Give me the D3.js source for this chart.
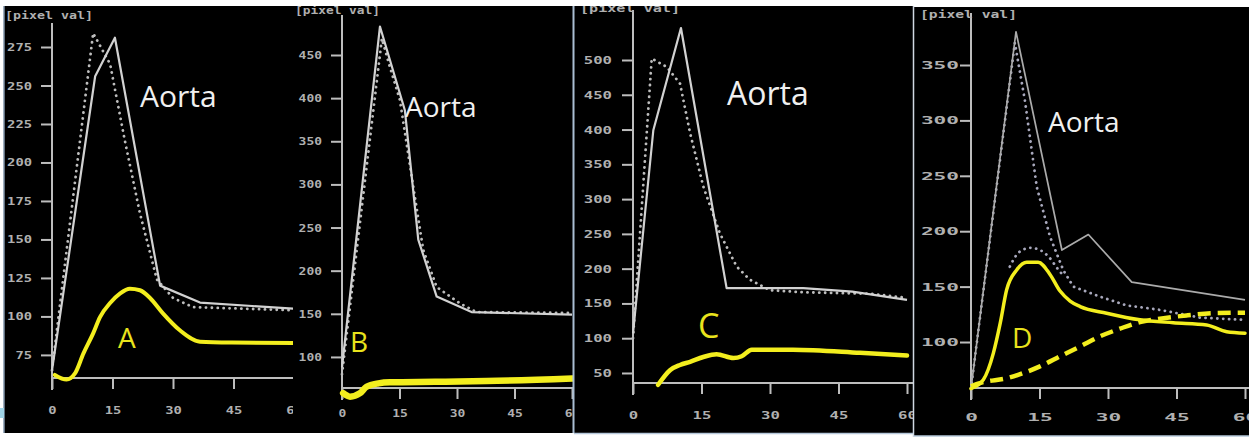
<!DOCTYPE html>
<html>
<head>
<meta charset="utf-8">
<script src="https://cdn.jsdelivr.net/npm/d3@7"></script>
<style>
  html, body { margin: 0; padding: 0; background: #fff; }
  svg { display: block; }
</style>
</head>
<body>
<svg id="chart" width="1249" height="437"></svg>
<script>
// time axis (s) shared by the four curves
const timeTicks = [0, 15, 30, 45, 60];

// y tick labels, one list per panel
const yTicksA = [75, 100, 125, 150, 175, 200, 225, 250, 275];
const yTicksB = [100, 150, 200, 250, 300, 350, 400, 450];
const yTicksC = [50, 100, 150, 200, 250, 300, 350, 400, 450, 500];
const yTicksD = [100, 150, 200, 250, 300, 350];

// aorta, measured (solid grey)  [time, pixel val]
const aortaA = [[0, 65], [10.7, 256], [15.6, 281], [26.8, 120], [36.7, 109], [60, 105]];
const aortaB = [[0, 88], [9.9, 483], [16.4, 386], [19.9, 236], [24.7, 170], [33.8, 152], [60, 149]];
const aortaC = [[0, 107], [4.45, 399], [10.5, 546], [20.5, 172], [37.3, 172], [48, 167], [60, 155]];
const aortaD = [[0, 58], [9.85, 380], [19.9, 183], [25.7, 197], [35.2, 154], [60, 138]];

// aorta, fitted (dotted grey)
const aortaFitA = [[0, 65], [10.2, 284], [14.4, 264], [18, 215], [21.8, 167], [26, 124], [30, 112], [35, 106], [60, 104]];
const aortaFitB = [[0, 80], [10.4, 469], [12.5, 436], [15.1, 398], [18.6, 297], [21.2, 224], [24.7, 181], [30.8, 162], [35.1, 152], [60, 151]];
const aortaFitC = [[0, 100], [4.1, 502], [7.4, 490], [10.3, 466], [12.5, 395], [15.4, 318], [19, 251], [22.7, 203], [25.6, 184], [30, 169], [37.3, 166], [52, 164], [60, 158]];
const aortaFitD = [[0, 58], [9.6, 370], [11.8, 318], [14.4, 240], [17.3, 195], [20.2, 165], [22.4, 150], [28.2, 141], [34.1, 133], [41.4, 129], [50.1, 122], [60, 120]];
const bumpFitD = [[8.5, 168], [10.5, 181], [13, 185], [15.1, 183], [17, 177], [19, 166], [20.2, 160]];

// tissue curves (yellow)
const tumorA = [[0.7, 62], [3.6, 59], [5.7, 63], [7.8, 76], [10.2, 89], [11.9, 99.6], [14.4, 108.7], [16.9, 115], [19.3, 118], [21.8, 117], [24.3, 112], [27.5, 102], [31.7, 91], [36.7, 83.6], [44.6, 83], [60, 82.7]];
const tumorB = [[0.3, 58], [2.1, 54], [4.7, 58], [6.4, 65.5], [9.5, 69.4], [12.5, 70.6], [24.3, 71.2], [37.7, 72], [60, 75]];
const tumorC = [[5.5, 33], [8.1, 54], [10.3, 61.5], [12.5, 66], [15.4, 73], [18.3, 77], [22, 71.5], [23.8, 74], [26, 83.5], [35, 83.5], [49.7, 79], [60, 75]];
const tumorD = [[0, 58], [2.7, 66], [4.9, 90], [6.4, 117], [7.8, 147], [10, 165], [12.2, 172], [14.7, 172], [17.3, 161], [19.5, 146], [21.7, 137], [23.9, 132], [29.7, 126], [37, 120], [44.3, 117.4], [51.6, 115.4], [56, 109.3], [60, 108]];
const tumorDashedD = [[0, 60], [1.2, 62], [8.5, 68], [15.1, 78], [19.5, 87], [23.9, 96], [28.2, 105], [32.6, 112], [37, 118], [41.4, 121], [47.2, 124], [53.1, 126], [60, 126.5]];

const yellow = "#f3ee1e";
const axisColor = "#bdbdbd";
const tickText = "#b0b0b0";

// layout of the four screenshots
const panels = [
  { key: "A", box: [4, 6, 293, 433], x0: 52, x60: 294, y0: 378, yTop: 23,
    yDomain: [60, 275], yRange: [378, 47], yTicks: yTicksA, charW: 8.3, yPad: 9, xLabelY: 410,
    title: [5, 19, 88], aorta: aortaA, fits: [aortaFitA], tumor: tumorA, tumorW: 4, dashed: null,
    aortaLabel: [140, 107, 30], letter: [118, 348, 28] },
  { key: "B", box: [293, 6, 573, 433], x0: 342, x60: 572, y0: 388, yTop: 15,
    yDomain: [64, 450], yRange: [388, 55], yTicks: yTicksB, charW: 7.8, yPad: 9, xLabelY: 413,
    title: [295, 14, 85], aorta: aortaB, fits: [aortaFitB], tumor: tumorB, tumorW: 6.5, dashed: null,
    aortaLabel: [405, 117, 28], letter: [350, 352, 28] },
  { key: "C", box: [574, 6, 913, 433], x0: 633, x60: 907, y0: 383, yTop: 10,
    yDomain: [35.6, 500], yRange: [383, 60], yTicks: yTicksC, charW: 9.4, yPad: 10, xLabelY: 415,
    title: [580, 12, 100], aorta: aortaC, fits: [aortaFitC], tumor: tumorC, tumorW: 4.5, dashed: null,
    aortaLabel: [727, 105, 32], letter: [698, 338, 34] },
  { key: "D", box: [914, 7, 1249, 436], x0: 971, x60: 1245, y0: 388, yTop: 13,
    yDomain: [58.5, 350], yRange: [388, 65], yTicks: yTicksD, charW: 12.7, yPad: 1, xLabelY: 417,
    title: [920, 18, 97], aorta: aortaD, fits: [aortaFitD, bumpFitD], tumor: tumorD, tumorW: 3.5, dashed: tumorDashedD,
    aortaLabel: [1048, 132, 28], letter: [1012, 348, 28] }
];

const svg = d3.select("#chart");
svg.append("rect").attr("width", 1249).attr("height", 437).attr("fill", "#fff");
const defs = svg.append("defs");

panels.forEach(p => {
  const [bx0, by0, bx1, by1] = p.box;
  defs.append("clipPath").attr("id", "clip" + p.key)
    .append("rect").attr("x", bx0).attr("y", by0).attr("width", bx1 - bx0).attr("height", by1 - by0);

  const g = svg.append("g").attr("clip-path", `url(#clip${p.key})`);
  g.append("rect").attr("x", bx0).attr("y", by0).attr("width", bx1 - bx0).attr("height", by1 - by0).attr("fill", "#000");

  const x = d3.scaleLinear().domain([0, 60]).range([p.x0, p.x60]);
  const y = d3.scaleLinear().domain(p.yDomain).range(p.yRange);

  // axes
  const gy = g.append("g").attr("transform", `translate(${p.x0},0)`)
    .call(d3.axisLeft(y).tickValues(p.yTicks).tickSize(11).tickSizeOuter(0).tickPadding(p.yPad));
  const gx = g.append("g").attr("transform", `translate(0,${p.y0})`)
    .call(d3.axisBottom(x).tickValues(timeTicks).tickSize(11).tickSizeOuter(0));
  [gy, gx].forEach(ax => {
    ax.select(".domain").remove();
    ax.attr("font-family", "'DejaVu Sans Mono', monospace").attr("font-size", 11).attr("font-weight", "bold");
    ax.selectAll("line").attr("stroke", axisColor).attr("stroke-width", 2);
    ax.selectAll("text").attr("fill", tickText)
      .attr("textLength", d => String(d).length * p.charW)
      .attr("lengthAdjust", "spacingAndGlyphs");
  });
  gx.selectAll("text").attr("y", p.xLabelY - p.y0).attr("dy", "0.35em");

  g.append("line").attr("x1", p.x0).attr("x2", p.x0).attr("y1", p.yTop).attr("y2", p.y0 + 12)
    .attr("stroke", axisColor).attr("stroke-width", 2);
  g.append("line").attr("x1", p.x0).attr("x2", bx1).attr("y1", p.y0).attr("y2", p.y0)
    .attr("stroke", axisColor).attr("stroke-width", 2);

  g.append("text").attr("x", p.title[0]).attr("y", p.title[1])
    .attr("font-family", "'DejaVu Sans Mono', monospace").attr("font-size", 11).attr("font-weight", "bold")
    .attr("fill", tickText).attr("textLength", p.title[2]).attr("lengthAdjust", "spacingAndGlyphs")
    .text("[pixel val]");

  const straight = d3.line().x(d => x(d[0])).y(d => y(d[1]));
  const smooth = d3.line().x(d => x(d[0])).y(d => y(d[1])).curve(d3.curveMonotoneX);

  p.fits.forEach((f, i) => {
    g.append("path").attr("d", i === 0 ? straight(f) : smooth(f)).attr("fill", "none")
      .attr("stroke", p.key === "D" ? "#a8a8bc" : "#bdbdbd").attr("stroke-width", 2.8)
      .attr("stroke-linecap", "round").attr("stroke-linejoin", "round").attr("stroke-dasharray", "0.1 5.8");
  });
  g.append("path").attr("d", straight(p.aorta)).attr("fill", "none")
    .attr("stroke", p.key === "D" ? "#ababab" : "#d2d2d2").attr("stroke-width", p.key === "D" ? 1.7 : 2.2)
    .attr("stroke-linejoin", "round");

  if (p.dashed) {
    g.append("path").attr("d", smooth(p.dashed)).attr("fill", "none")
      .attr("stroke", yellow).attr("stroke-width", 4.5).attr("stroke-dasharray", "13 7");
  }
  g.append("path").attr("d", smooth(p.tumor)).attr("fill", "none")
    .attr("stroke", yellow).attr("stroke-width", p.tumorW)
    .attr("stroke-linejoin", "round").attr("stroke-linecap", "round");

  g.append("text").attr("x", p.aortaLabel[0]).attr("y", p.aortaLabel[1])
    .attr("font-family", "'Open Sans', sans-serif").attr("font-size", p.aortaLabel[2]).attr("font-weight", 500)
    .attr("fill", "#f0f0f0").text("Aorta");
  g.append("text").attr("x", p.letter[0]).attr("y", p.letter[1])
    .attr("font-family", "'Open Sans', sans-serif").attr("font-size", p.letter[2]).attr("font-weight", 500)
    .attr("fill", "#e9e31c").text(p.key);
});

// thin frame lines between the screenshots
svg.append("line").attr("x1", 4).attr("x2", 4).attr("y1", 6).attr("y2", 433).attr("stroke", "#7f93a8").attr("stroke-width", 1.5);
svg.append("line").attr("x1", 573.5).attr("x2", 573.5).attr("y1", 6).attr("y2", 433).attr("stroke", "#a9bdd2").attr("stroke-width", 2);
svg.append("line").attr("x1", 913.5).attr("x2", 913.5).attr("y1", 6).attr("y2", 437).attr("stroke", "#cfd8e2").attr("stroke-width", 1.5);
svg.append("line").attr("x1", 574).attr("x2", 913).attr("y1", 433.5).attr("y2", 433.5).attr("stroke", "#b6c8da").attr("stroke-width", 1.5);
svg.append("line").attr("x1", 914).attr("x2", 1249).attr("y1", 436).attr("y2", 436).attr("stroke", "#b6c8da").attr("stroke-width", 1.5);
svg.append("rect").attr("x", 0).attr("y", 408).attr("width", 4).attr("height", 10).attr("fill", "#9fd3e6");
</script>
</body>
</html>
